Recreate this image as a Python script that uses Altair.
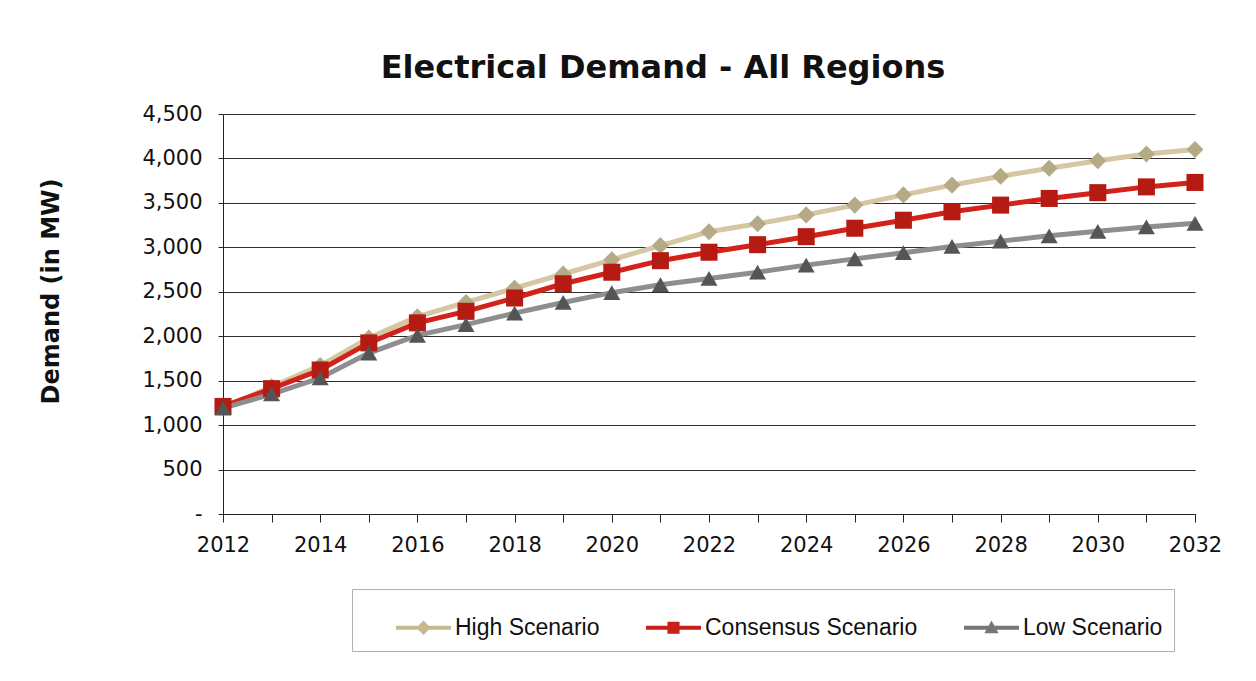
import altair as alt
import pandas as pd

years = list(range(2012, 2033))
high = [1200, 1430, 1670, 1980, 2220, 2380, 2540, 2700, 2860, 3020, 3175,
        3265, 3365, 3475, 3590, 3700, 3800, 3890, 3975, 4050, 4100]
consensus = [1210, 1410, 1620, 1925, 2150, 2280, 2430, 2590, 2720, 2850, 2945,
             3030, 3120, 3215, 3305, 3400, 3475, 3550, 3615, 3680, 3730]
low = [1190, 1350, 1530, 1810, 2010, 2130, 2260, 2380, 2490, 2580, 2650,
       2720, 2800, 2870, 2940, 3010, 3070, 3130, 3180, 3230, 3270]
series = ["High Scenario", "Consensus Scenario", "Low Scenario"]
y_ticks = list(range(0, 4501, 500))

line_colors = ["#d6c7a3", "#d2221a", "#8e8e8e"]
marker_colors = ["#b5aa86", "#b51b12", "#555555"]
legend_colors = ["#c6b891", "#c81f17", "#777777"]
marker_shapes = ["diamond", "square", "triangle-up"]
legend_paths = [
    "M-1,-0.07H1V0.07H-1Z M0,-0.26L0.26,0L0,0.26L-0.26,0Z",
    "M-1,-0.07H1V0.07H-1Z M-0.22,-0.22H0.22V0.22H-0.22Z",
    "M-1,-0.07H1V0.07H-1Z M0,-0.26L0.26,0.2H-0.26Z",
]

rows = []
for name, vals in zip(series, [high, consensus, low]):
    for yr, v in zip(years, vals):
        rows.append({"year": yr, "demand": v, "series": name})
df = pd.DataFrame(rows)

FONT = "DejaVu Sans"

x_enc = alt.X(
    "year:Q",
    scale=alt.Scale(domain=[2012, 2032], nice=False, zero=False),
    axis=alt.Axis(
        values=years, format="d",
        labelExpr="datum.value % 2 == 0 ? datum.label : ''",
        labelFlush=False, labelOverlap=False, labelBound=False,
        title=None, grid=False, tickSize=8, labelPadding=12,
        labelFontSize=21, labelFont=FONT, labelColor="#111",
        domainColor="#222", tickColor="#222",
    ),
)
y_enc = alt.Y(
    "demand:Q",
    scale=alt.Scale(domain=[0, 4500], nice=False),
    axis=alt.Axis(
        values=y_ticks,
        labelExpr="datum.value == 0 ? '-' : format(datum.value, ',')",
        title="Demand (in MW)", titleFontSize=24, titleFont=FONT,
        titleFontWeight="bold", titleColor="#111", titlePadding=78,
        titleY=177,
        labelFontSize=21, labelFont=FONT, labelColor="#111",
        tickSize=5, labelPadding=16, grid=True, gridColor="#2e2e2e",
        gridWidth=1.2, domainColor="#222", tickColor="#222",
    ),
)

base = alt.Chart(df)

lines = base.mark_line(strokeWidth=5).encode(
    x=x_enc, y=y_enc,
    color=alt.Color("series:N", scale=alt.Scale(domain=series, range=line_colors), legend=None),
)

points = base.mark_point(filled=True, opacity=1, size=290).encode(
    x=x_enc, y=y_enc,
    fill=alt.Fill("series:N", scale=alt.Scale(domain=series, range=marker_colors), legend=None),
    shape=alt.Shape("series:N", scale=alt.Scale(domain=series, range=marker_shapes), legend=None),
)

leg = alt.Legend(
    title=None, orient="none", legendX=129, legendY=475, direction="horizontal",
    symbolSize=3025, symbolStrokeWidth=0, symbolOffset=33,
    labelFont="Liberation Sans", labelLimit=400,
    labelFontSize=23, labelColor="#111", labelOffset=4, columnPadding=13,
    padding=11, strokeColor="#b0b0b0", fillColor="white", symbolOpacity=1,
)

legend_layer = base.mark_point(filled=True, opacity=1).encode(
    x=x_enc, y=y_enc,
    color=alt.Color("series:N", scale=alt.Scale(domain=series, range=legend_colors), legend=leg),
    shape=alt.Shape("series:N", scale=alt.Scale(domain=series, range=legend_paths), legend=leg),
).transform_filter("false")

chart = alt.layer(lines, points, legend_layer).resolve_scale(
    color="independent", shape="independent", fill="independent"
).properties(
    width=972, height=400,
    title=alt.TitleParams(
        "Electrical Demand - All Regions", font=FONT, fontSize=32,
        fontWeight="bold", color="#111", offset=18, dx=-46,
    ),
    padding={"left": 31, "top": 44, "right": 20, "bottom": 10},
    background="white",
).configure_view(stroke=None)

chart.save("out.html", embed_options={"renderer": "svg", "actions": False})
